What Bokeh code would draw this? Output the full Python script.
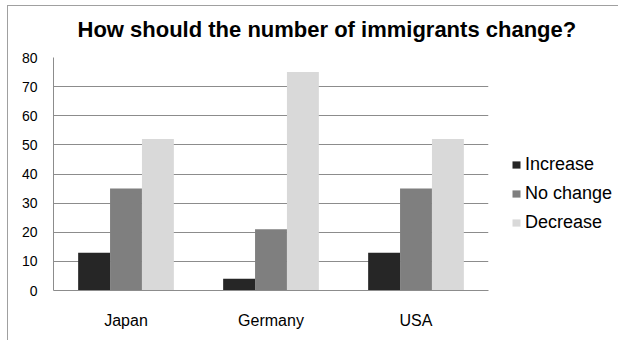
from bokeh.plotting import figure
from bokeh.models import (FactorRange, Range1d, Legend, LegendItem,
                          ColumnDataSource, Title)
from bokeh.transform import dodge
from bokeh.embed import file_html
from bokeh.resources import INLINE

countries = ["Japan", "Germany", "USA"]
series_names = ["Increase", "No change", "Decrease"]
increase = [13, 4, 13]
no_change = [35, 21, 35]
decrease = [52, 75, 52]
colors = ["#262626", "#7f7f7f", "#d9d9d9"]
y_ticks = [0, 10, 20, 30, 40, 50, 60, 70, 80]

source = ColumnDataSource(dict(country=countries, increase=increase,
                               no_change=no_change, decrease=decrease))

p = figure(frame_width=435, frame_height=233, output_backend="svg", toolbar_location=None,
           x_range=FactorRange(*countries, range_padding=0), y_range=Range1d(0, 80),
           min_border_left=45, min_border_right=129, min_border_top=51, min_border_bottom=50)
p.margin = (5, 0, 0, 7)
p.styles = {"border-left": "1px solid #a0a0a0", "border-top": "1px solid #a0a0a0"}
p.outline_line_color = None
p.background_fill_color = "white"
p.border_fill_alpha = 0

bw = 0.22
renderers = []
for i, (col, name) in enumerate(zip(["increase", "no_change", "decrease"], series_names)):
    r = p.vbar(x=dodge("country", (i - 1) * bw, range=p.x_range), top=col, width=bw,
               source=source, fill_color=colors[i], line_color=None)
    renderers.append(r)

# axes
p.yaxis.ticker = y_ticks
p.yaxis.axis_line_color = "#8c8c8c"
p.yaxis.major_tick_line_color = None
p.yaxis.minor_tick_line_color = None
p.yaxis.major_label_text_font = "Liberation Sans"
p.yaxis.major_label_text_font_size = "14px"
p.yaxis.major_label_text_color = "black"
p.yaxis.major_label_standoff = 10

p.xaxis.axis_line_color = "#8c8c8c"
p.xaxis.major_tick_line_color = None
p.xaxis.minor_tick_line_color = None
p.xaxis.major_label_text_font = "Liberation Sans"
p.xaxis.major_label_text_font_size = "16px"
p.xaxis.major_label_text_color = "black"
p.xaxis.major_label_standoff = 15

p.xgrid.grid_line_color = None
p.ygrid.grid_line_color = "#8c8c8c"
p.ygrid.grid_line_width = 1

# spacer between title and plot area, then the title
spacer = Title(text=" ", text_font_size="1px", standoff=6)
p.add_layout(spacer, "above")
t = Title(text="How should the number of immigrants change?", align="left", offset=24,
          text_font="Liberation Sans", text_font_size="22px", text_font_style="bold",
          text_color="black", standoff=14)
p.add_layout(t, "above")

# legend
items = [LegendItem(label=n, renderers=[r]) for n, r in zip(series_names, renderers)]
legend = Legend(items=items, location=(23, 57), orientation="vertical",
                glyph_width=10, glyph_height=9, label_height=20, spacing=8,
                padding=0, margin=0, label_standoff=4,
                label_text_font="Liberation Sans", label_text_font_size="18px",
                label_text_color="black", border_line_color=None,
                background_fill_alpha=0)
p.add_layout(legend, "right")

open("out.html", "w").write(file_html(p, INLINE))
